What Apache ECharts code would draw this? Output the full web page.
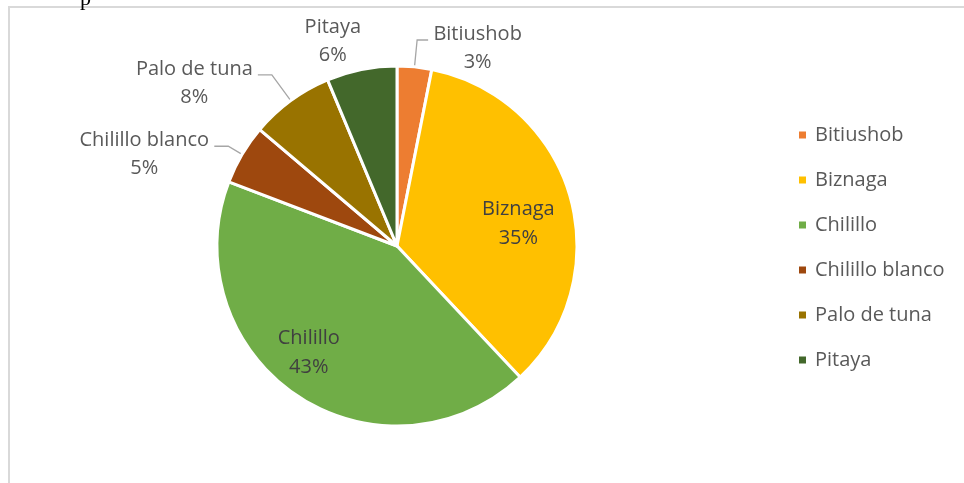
<!DOCTYPE html>
<html>
<head>
<meta charset="utf-8">
<script src="https://cdn.jsdelivr.net/npm/echarts@6/dist/echarts.min.js"></script>
<style>
	html, body { margin: 0; padding: 0; background: #fff; }
	#chart { width: 964px; height: 483px; }
</style>
</head>
<body>
<div id="chart"></div>
<script>
	// values (percent of total)
	const categories = ['Bitiushob', 'Biznaga', 'Chilillo', 'Chilillo blanco', 'Palo de tuna', 'Pitaya']
	const values = [3.1, 34.9, 42.8, 5.4, 7.5, 6.3]
	const colors = ['#ed7d31', '#ffc000', '#70ad47', '#9e480e', '#997300', '#43682b']

	const font = '"Open Sans", "Noto Sans", sans-serif'
	const fontSize = 20
	const center = [397, 246]
	const radius = 180

	// label placement per slice (inside labels pushed out from the middle ring)
	const labelCfg = {
		'Bitiushob': { length: 27, length2: 11 },
		'Biznaga': { inside: 0.69, dx: 2, dy: 12 },
		'Chilillo': { inside: 0.77, dx: -11, dy: -8 },
		'Chilillo blanco': { length: 16, length2: 14 },
		'Palo de tuna': { length: 32, length2: 14 },
		'Pitaya': { length: 37, length2: -12, hideLine: true }
	}

	// width of the widest label line, so both lines can be centred
	let ctx = document.createElement('canvas').getContext('2d')
	ctx.font = fontSize + 'px ' + font
	function textWidth(s) {
		return Math.ceil(ctx.measureText(s).width)
	}

	const total = values.reduce((a, b) => a + b, 0)

	let mychart = echarts.init(document.getElementById('chart'))
	mychart.setOption({
		color: colors,
		animation: false,
		graphic: [{
			type: 'rect',
			shape: { x: 9, y: 7, width: 1000, height: 500 },
			style: { fill: 'none', stroke: '#d9d9d9', lineWidth: 2 }
		}, {
			type: 'text',
			left: 80,
			top: -12,
			style: { text: 'p', font: '22px "Liberation Serif", serif', fill: '#000' }
		}],
		legend: {
			orient: 'vertical',
			left: 797,
			top: 125,
			padding: 0,
			itemWidth: 9,
			itemHeight: 9,
			itemGap: 25,
			icon: 'rect',
			textStyle: {
				color: '#595959',
				fontSize: fontSize,
				fontFamily: font,
				padding: [0, 0, 0, 3]
			},
			data: categories
		},
		series: [{
			type: 'pie',
			center: center,
			radius: radius,
			startAngle: 90,
			clockwise: true,
			percentPrecision: 0,
			avoidLabelOverlap: false,
			itemStyle: {
				borderColor: '#fff',
				borderWidth: 3
			},
			label: {
				formatter: '{c|{b}}\n{c|{d}%}',
				color: '#595959',
				fontSize: fontSize,
				fontFamily: font,
				padding: [16, 0, 0, 0]
			},
			labelLine: {
				lineStyle: { color: '#a6a6a6', width: 1.3 }
			},
			labelLayout: function (params) {
				let cfg = labelCfg[categories[params.dataIndex]]
				if (!cfg || !cfg.inside) return {}
				let r = params.labelRect
				let vx = r.x + r.width / 2 - center[0]
				let vy = r.y + r.height / 2 - center[1]
				let len = Math.sqrt(vx * vx + vy * vy)
				let k = cfg.inside * radius / len
				return { dx: vx * (k - 1) + cfg.dx, dy: vy * (k - 1) + cfg.dy }
			},
			data: categories.map((name, i) => {
				let cfg = labelCfg[name]
				let item = { name: name, value: values[i] }
				if (cfg.inside) {
					item.label = {
						position: 'inside',
						formatter: '{b}\n{d}%',
						color: '#404040',
						lineHeight: 29,
						padding: 0
					}
					item.labelLine = { show: false }
				} else {
					let pct = Math.round(values[i] / total * 100) + '%'
					let w = Math.max(textWidth(name), textWidth(pct))
					item.label = {
						rich: { c: { width: w, align: 'center', lineHeight: 28 } }
					}
					item.labelLine = {
						show: !cfg.hideLine,
						length: cfg.length,
						length2: cfg.length2
					}
				}
				return item
			})
		}]
	})
</script>
</body>
</html>
